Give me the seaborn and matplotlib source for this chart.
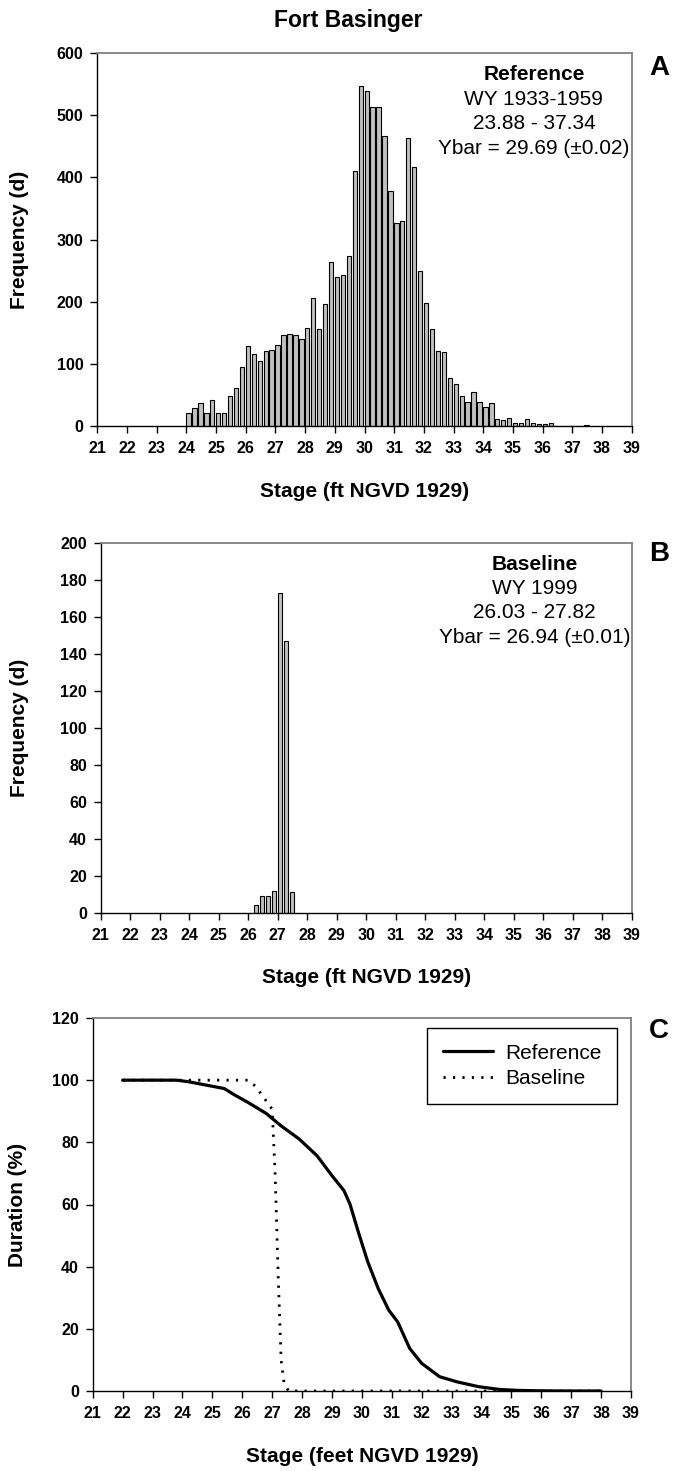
import matplotlib
matplotlib.use("Agg")
import matplotlib.pyplot as plt
import seaborn as sns

sns.set_style("ticks")
plt.rcParams['font.family'] = ['Liberation Sans', 'DejaVu Sans']
plt.rcParams['text.color'] = 'black'
plt.rcParams['axes.labelcolor'] = 'black'
plt.rcParams['xtick.color'] = 'black'
plt.rcParams['ytick.color'] = 'black'

# ---------------- data ----------------
title = "Fort Basinger"

# Panel A: Reference histogram (0.2 ft classes, labelled by class upper bound)
a_bins = [24.0, 24.2, 24.4, 24.6, 24.8, 25.0, 25.2, 25.4, 25.6, 25.8,
          26.0, 26.2, 26.4, 26.6, 26.8, 27.0, 27.2, 27.4, 27.6, 27.8,
          28.0, 28.2, 28.4, 28.6, 28.8, 29.0, 29.2, 29.4, 29.6, 29.8,
          30.0, 30.2, 30.4, 30.6, 30.8, 31.0, 31.2, 31.4, 31.6, 31.8,
          32.0, 32.2, 32.4, 32.6, 32.8, 33.0, 33.2, 33.4, 33.6, 33.8,
          34.0, 34.2, 34.4, 34.6, 34.8, 35.0, 35.2, 35.4, 35.6, 35.8,
          36.0, 36.2, 36.4, 36.6, 36.8, 37.0, 37.2, 37.4]
a_counts = [20, 28, 37, 20, 42, 20, 21, 48, 61, 95,
            128, 116, 104, 120, 122, 130, 146, 148, 146, 140,
            157, 206, 155, 196, 263, 239, 242, 274, 411, 547,
            539, 514, 514, 466, 378, 327, 330, 463, 417, 249,
            197, 155, 120, 118, 77, 67, 48, 38, 54, 38,
            30, 36, 10, 9, 13, 5, 5, 11, 5, 2,
            3, 4, 0, 0, 0, 0, 0, 1]
a_text = ["Reference", "WY 1933-1959", "23.88 - 37.34", "Ybar = 29.69 (\u00b10.02)"]

# Panel B: Baseline histogram
b_bins = [26.2, 26.4, 26.6, 26.8, 27.0, 27.2, 27.4]
b_counts = [4, 9, 9, 12, 173, 147, 11]
b_text = ["Baseline", "WY 1999", "26.03 - 27.82", "Ybar = 26.94 (\u00b10.01)"]

# Panel C: stage duration curves (% of time stage is equalled or exceeded)
ref_x = [22.0, 23.0, 23.8, 24.2, 24.8, 25.4, 25.7, 26.2, 26.8, 27.3, 27.9, 28.5,
         29.0, 29.4, 29.6, 29.9, 30.2, 30.55, 30.9, 31.2, 31.6, 32.0, 32.6,
         33.2, 33.9, 34.6, 35.2, 36.0, 37.0, 38.0]
ref_y = [100, 100, 100, 99.5, 98.4, 97.3, 95.5, 92.8, 89.3, 85.3, 81.1, 75.7,
         69.3, 64.5, 60.2, 50.6, 41.5, 32.9, 26.0, 22.2, 13.7, 8.9, 4.6,
         2.9, 1.4, 0.5, 0.2, 0.05, 0.0, 0.0]
base_x = [22.0, 24.0, 26.2, 26.45, 26.75, 27.0, 27.1, 27.2, 27.3, 27.4, 27.55, 30.0, 34.0, 38.0]
base_y = [100, 100, 100, 98, 94, 90.7, 70, 38, 10, 2.5, 0, 0, 0, 0]

xticks = list(range(21, 40))

# ---------------- layout ----------------
W, H = 681, 1471
fig = plt.figure(figsize=(W / 100, H / 100), dpi=100)

def add_axes(left, right, top, bottom):
    return fig.add_axes([left / W, 1 - bottom / H, (right - left) / W, (bottom - top) / H])

axA = add_axes(97.3, 631.7, 53.3, 425.7)
axB = add_axes(100.7, 632.0, 542.7, 912.7)
axC = add_axes(92.7, 631.0, 1018.0, 1391.0)

bar_kw = dict(native_scale=True, orient="x", width=0.73, color="#c0c0c0",
              saturation=1, edgecolor="black", linewidth=0.8)
sns.barplot(x=a_bins, y=a_counts, ax=axA, **bar_kw)
sns.barplot(x=b_bins, y=b_counts, ax=axB, **bar_kw)
# class labelled by upper bound: bar starts at label position
for ax in (axA, axB):
    for p in ax.patches:
        p.set_x(p.get_x() + p.get_width() / 2)

sns.lineplot(x=ref_x, y=ref_y, ax=axC, color="black", linewidth=2.3,
             label="Reference", sort=False, errorbar=None)
sns.lineplot(x=base_x, y=base_y, ax=axC, color="black", linewidth=2.0,
             linestyle=(0, (0.8, 2.6)), label="Baseline", sort=False, errorbar=None)

tick_font = dict(fontsize=11.5, fontweight="bold")
lab_font = dict(fontsize=15, fontweight="bold")

for ax, ymax, ystep in ((axA, 600, 100), (axB, 200, 20), (axC, 120, 20)):
    ax.set_xlim(21, 39)
    ax.set_ylim(0, ymax)
    ax.set_xticks(xticks)
    ax.set_xticklabels([str(t) for t in xticks], **tick_font)
    yt = list(range(0, ymax + 1, ystep))
    ax.set_yticks(yt)
    ax.set_yticklabels([str(t) for t in yt], **tick_font)
    ax.tick_params(axis="both", direction="out", length=5, width=1, color="black")
    ax.tick_params(axis="x", pad=6)
    ax.tick_params(axis="y", pad=5)
    ax.set_facecolor("white")
    for s in ("left", "bottom"):
        ax.spines[s].set_color("black")
        ax.spines[s].set_linewidth(1.0)
    for s in ("top", "right"):
        ax.spines[s].set_visible(True)
        ax.spines[s].set_color("#808080")
        ax.spines[s].set_linewidth(1.3)

axA.set_xlabel("Stage (ft NGVD 1929)", **lab_font)
axB.set_xlabel("Stage (ft NGVD 1929)", **lab_font)
axC.set_xlabel("Stage (feet NGVD 1929)", **lab_font)
axA.set_ylabel("Frequency (d)", **lab_font)
axB.set_ylabel("Frequency (d)", **lab_font)
axC.set_ylabel("Duration (%)", **lab_font)
axA.xaxis.set_label_coords(0.5, -0.150)
axB.xaxis.set_label_coords(0.5, -0.150)
axC.xaxis.set_label_coords(0.5, -0.150)
axA.yaxis.set_label_coords(-0.128, 0.5)
axB.yaxis.set_label_coords(-0.135, 0.5)
axC.yaxis.set_label_coords(-0.122, 0.5)

for ax, lines in ((axA, a_text), (axB, b_text)):
    ys = [0.942, 0.875, 0.812, 0.745]
    for i, (txt, yy) in enumerate(zip(lines, ys)):
        ax.text(0.817, yy, txt, transform=ax.transAxes, ha="center", va="center",
                fontsize=15, fontweight="bold" if i == 0 else "normal")

leg = axC.legend(loc="upper right", bbox_to_anchor=(0.974, 0.973), frameon=True,
                 fancybox=False, edgecolor="black", framealpha=1, fontsize=15,
                 handlelength=2.4, handletextpad=0.6, borderpad=0.75, labelspacing=0.3,
                 borderaxespad=0.0)
leg.get_frame().set_linewidth(1.0)

fig.text(348.7 / W, 1 - 20.7 / H, title, ha="center", va="center", fontsize=16.5, fontweight="bold")
for ax, letter, top in ((axA, "A", 55), (axB, "B", 541), (axC, "C", 1018)):
    fig.text(659 / W, 1 - top / H, letter, ha="center", va="top", fontsize=20, fontweight="bold")

fig.savefig("out.png", dpi=100)
